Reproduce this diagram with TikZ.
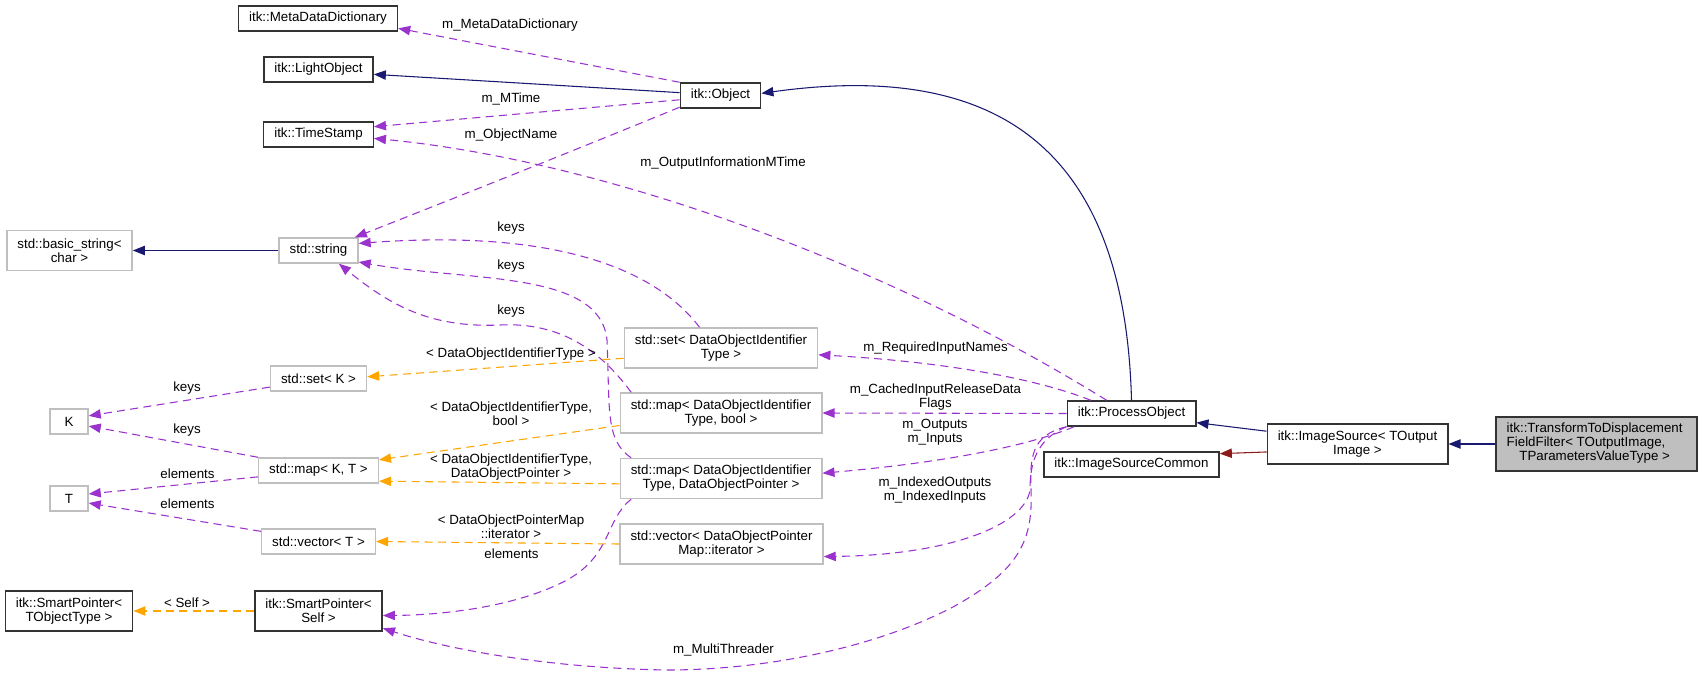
\documentclass[tikz,border=0pt]{standalone}
\usepackage{fontspec}
\setmainfont{Liberation Sans}
\usepackage{xcolor}
\usepackage{tikz}
\usetikzlibrary{arrows.meta}

\definecolor{inhblue}{HTML}{191970}
\definecolor{usepurple}{HTML}{9A32CD}
\definecolor{tmplorange}{HTML}{FFA500}
\definecolor{protred}{HTML}{8B1A1A}
\definecolor{greyborder}{HTML}{BFBFBF}

\begin{document}
\begin{tikzpicture}[
  x=0.75pt, y=-0.75pt,
  font=\fontsize{10}{10.5}\selectfont,
  doc/.style={rectangle, draw=black!80, line width=1.1pt, inner xsep=7.9pt, inner ysep=2pt, minimum height=18.75pt, align=center},
  undoc/.style={doc, draw=greyborder},
  two/.style={minimum height=30pt},
  cur/.style={doc, fill=greyborder, minimum height=40.5pt},
  conn/.style={line width=0.8pt, -{Triangle[length=9pt,width=7pt]}},
  inh/.style={conn, draw=inhblue},
  use/.style={conn, draw=usepurple, dash pattern=on 6pt off 4pt},
  tmpl/.style={conn, draw=tmplorange, dash pattern=on 6pt off 4pt},
  prot/.style={conn, draw=protred},
  lbl/.style={inner sep=0pt, align=center},
]
  \useasboundingbox (0,0) rectangle (1701,678);

  \node[doc] (mdd) at (318,18.5) {itk::MetaDataDictionary};
  \node[doc] (lo) at (318.5,69.5) {itk::LightObject};
  \node[doc] (ts) at (318.5,134.5) {itk::TimeStamp};
  \node[doc] (obj) at (720.5,95.5) {itk::Object};
  \node[undoc, two] (bstr) at (69.5,250.5) {std::basic\_string<\\char >};
  \node[undoc] (str) at (318.5,250.5) {std::string};
  \node[undoc] (setk) at (318.5,378.5) {std::set< K >};
  \node[undoc, minimum width=28.5pt] (k) at (69,421.5) {K};
  \node[undoc] (mkt) at (318.5,470.5) {std::map< K, T >};
  \node[undoc, minimum width=28.5pt] (t) at (69,498.5) {T};
  \node[undoc] (vect) at (318.5,541.5) {std::vector< T >};
  \node[doc, two] (spt) at (69,611) {itk::SmartPointer<\\TObjectType >};
  \node[doc, two] (sps) at (318.5,611) {itk::SmartPointer<\\Self >};
  \node[undoc, two] (setdoi) at (721,348) {std::set< DataObjectIdentifier\\Type >};
  \node[undoc, two] (mapbool) at (721,413) {std::map< DataObjectIdentifier\\Type, bool >};
  \node[undoc, two] (mapdop) at (721,478.5) {std::map< DataObjectIdentifier\\Type, DataObjectPointer >};
  \node[undoc, two] (vecdop) at (721.5,544) {std::vector< DataObjectPointer\\Map::iterator >};
  \node[doc] (po) at (1131.5,413.5) {itk::ProcessObject};
  \node[doc] (isc) at (1131.5,464.5) {itk::ImageSourceCommon};
  \node[doc, two] (is) at (1357.5,444) {itk::ImageSource< TOutput\\Image >};
  \node[cur] (tf) at (1596.5,444) {
    \begin{tabular}{@{}l@{}}
      itk::TransformToDisplacement \\
      FieldFilter< TOutputImage, \\
      \multicolumn{1}{@{}c@{}}{TParametersValueType >} \\
    \end{tabular}
  };

  \draw[use] (obj.north west) -- (mdd.-7);
  \draw[inh] (obj.176) -- (lo.-5);
  \draw[use] (obj.186) -- (ts.8);
  \draw[use] (obj.196) .. controls (600,140) and (450,200) .. (str.20);
  \draw[use] (po.152) .. controls (880,260) and (600,160) .. (ts.-4);
  \draw[inh] (str.west) -- (bstr.east);
  \draw[use] (setdoi.136) .. controls (650,262) and (540,230) .. (str.10);
  \draw[use] (mapdop.167) .. controls (605,440) and (610,410) .. (607,340) .. controls (600,270) and (470,282) .. (str.-16);
  \draw[use] (mapbool.167) .. controls (600,350) and (560,322) .. (500,325) .. controls (430,328) and (390,305) .. (str.-33);
  \draw[use] (mapdop.193) .. controls (605,520) and (612,555) .. (567,580) .. controls (520,605) and (450,615) .. (sps.-4);
  \draw[use] (po.south west) .. controls (1030,435) and (1030,460) .. (1031,490) .. controls (1033,540) and (1020,570) .. (953,607) .. controls (870,650) and (760,670) .. (667,670) .. controls (550,668) and (450,650) .. (sps.-15);
  \draw[use] (po.south west) .. controls (1035,440) and (1030,465) .. (1030,490) .. controls (1025,525) and (950,555) .. (vecdop.-7);
  \draw[use] (po.193) .. controls (1030,445) and (950,462) .. (mapdop.3);
  \draw[use] (po.west) -- (mapbool.east);
  \draw[use] (po.162) .. controls (1040,380) and (950,362) .. (setdoi.-4);
  \draw[inh] (po.north) .. controls (1125,150) and (1000,60) .. (obj.3);
  \draw[inh] (is.172) -- (po.-8);
  \draw[prot] (is.185) -- (isc.7);
  \draw[inh] (tf.west) -- (is.east);
  \draw[tmpl] (setdoi.186) -- (setk.2);
  \draw[tmpl] (mapbool.187) -- (mkt.10);
  \draw[tmpl] (mapdop.183) -- (mkt.-10);
  \draw[tmpl] (vecdop.west) -- (vect.east);
  \draw[tmpl] (sps.west) -- (spt.east);
  \draw[use] (setk.190) -- (k.16);
  \draw[use] (mkt.north west) -- (k.-13);
  \draw[use] (mkt.186) -- (t.13);
  \draw[use] (vect.170) -- (t.-13);

  \node[lbl] (l-mdd) at (510,25) {m\_MetaDataDictionary};
  \node[lbl] (l-mtime) at (511,99) {m\_MTime};
  \node[lbl] (l-objname) at (511,135) {m\_ObjectName};
  \node[lbl] (l-outinfo) at (723,163) {m\_OutputInformationMTime};
  \node[lbl] (l-keys1) at (511,228) {keys};
  \node[lbl] (l-keys2) at (511,266) {keys};
  \node[lbl] (l-keys3) at (511,311) {keys};
  \node[lbl] (l-tsetdoi) at (511,354) {< DataObjectIdentifierType >};
  \node[lbl] (l-tmapbool) at (511,413.5) {< DataObjectIdentifierType,\\bool >};
  \node[lbl] (l-tmapdop) at (511,467) {< DataObjectIdentifierType,\\DataObjectPointer >};
  \node[lbl] (l-tvecdop) at (511,527) {< DataObjectPointerMap\\::iterator >};
  \node[lbl] (l-elem1) at (511.5,554) {elements};
  \node[lbl] (l-thread) at (723.5,650) {m\_MultiThreader};
  \node[lbl] (l-keys4) at (187,388) {keys};
  \node[lbl] (l-keys5) at (187,430) {keys};
  \node[lbl] (l-elem2) at (187.5,474) {elements};
  \node[lbl] (l-elem3) at (187.5,504) {elements};
  \node[lbl] (l-self) at (187,603) {< Self >};
  \node[lbl] (l-reqin) at (935.5,348) {m\_RequiredInputNames};
  \node[lbl] (l-cached) at (935.5,397.5) {m\_CachedInputReleaseData\\Flags};
  \node[lbl] (l-outin) at (935,432) {m\_Outputs\\m\_Inputs};
  \node[lbl] (l-idx) at (935,490.5) {m\_IndexedOutputs\\m\_IndexedInputs};
\end{tikzpicture}
\end{document}
